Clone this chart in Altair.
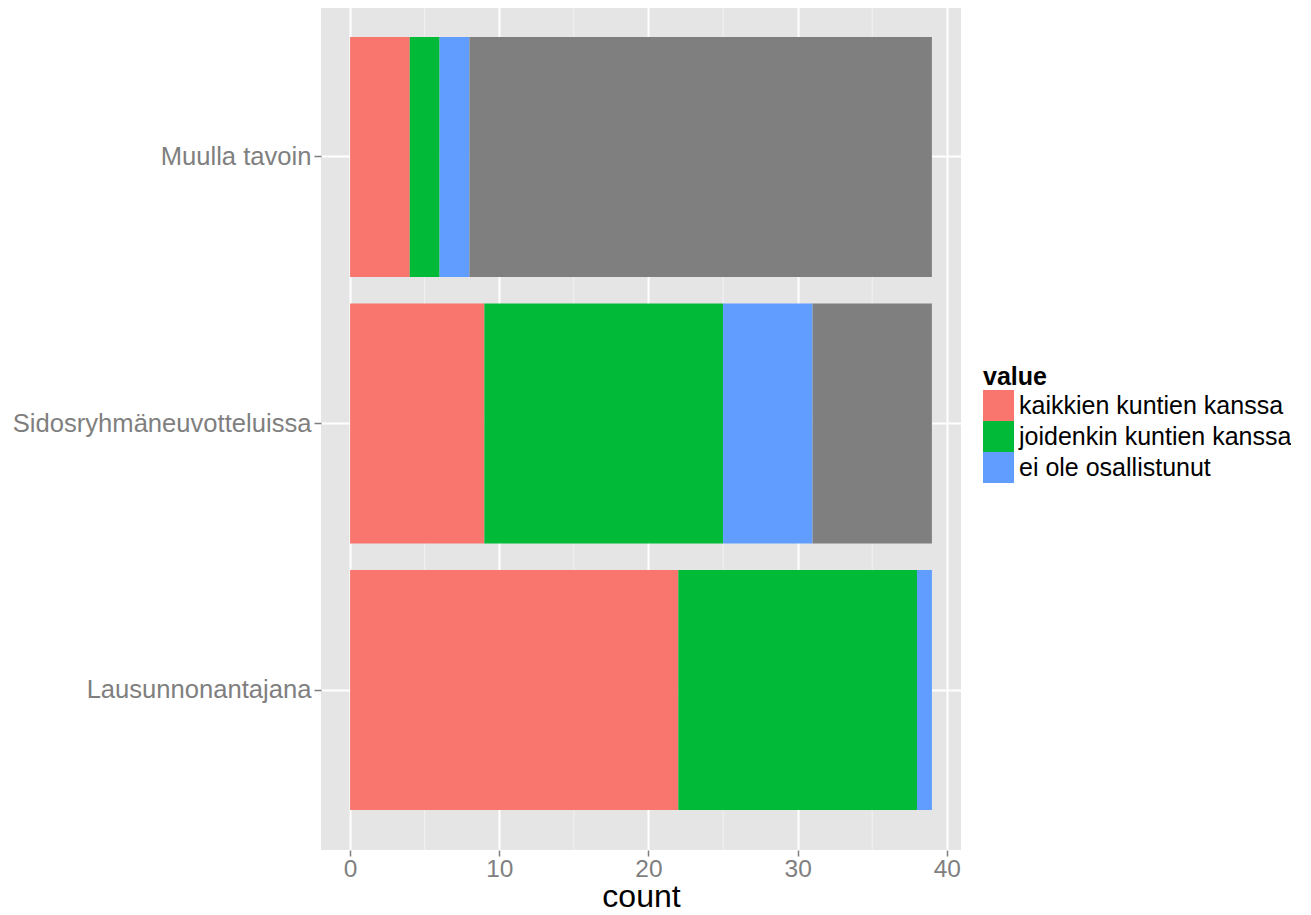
import altair as alt
import pandas as pd

categories = ["Muulla tavoin", "Sidosryhmäneuvotteluissa", "Lausunnonantajana"]
series_names = ["kaikkien kuntien kanssa", "joidenkin kuntien kanssa", "ei ole osallistunut", "NA"]
kaikkien = [4, 9, 22]
joidenkin = [2, 16, 16]
ei_ole = [2, 6, 1]
na_vals = [31, 8, 0]
colors = ["#F8766D", "#00BA38", "#619CFF", "#7F7F7F"]
x_ticks = [0, 10, 20, 30, 40]
minor_ticks = [5, 15, 25, 35]

rows = []
for i, cat in enumerate(categories):
    for j, (name, vals) in enumerate(zip(series_names, [kaikkien, joidenkin, ei_ole, na_vals])):
        rows.append({"variable": cat, "value": name, "count": vals[i], "ord": j})
df = pd.DataFrame(rows)
minor_df = pd.DataFrame({"m": minor_ticks})

FONT = "Liberation Sans"
xscale = alt.Scale(domain=[-1.95, 40.95], nice=False, zero=False)
yscale = alt.Scale(domain=categories, paddingInner=0.1, paddingOuter=0.15)

xaxis = alt.Axis(values=x_ticks, title="count", grid=True, gridColor="white",
                 gridWidth=2, domain=False, tickColor="#7F7F7F", tickSize=6,
                 tickWidth=1.5, labelColor="#7F7F7F", labelFontSize=24.5,
                 labelFont=FONT, labelPadding=1, titleFont=FONT,
                 titleFontSize=32, titleFontWeight="normal", titleColor="black",
                 titlePadding=1, labelFlush=False)

minor = alt.Chart(minor_df).mark_rule(color="#F2F2F2", strokeWidth=1).encode(
    x=alt.X("m:Q", scale=xscale, axis=xaxis)
)

bars = alt.Chart(df).mark_bar(strokeWidth=0).encode(
    x=alt.X("sum(count):Q", scale=xscale, stack="zero", axis=xaxis),
    y=alt.Y("variable:N", scale=yscale, sort=categories,
            axis=alt.Axis(title=None, grid=True, gridColor="white", gridWidth=2,
                          bandPosition=0.5, domain=False, tickColor="#7F7F7F",
                          tickSize=7, tickWidth=1.5, labelColor="#7F7F7F",
                          labelFontSize=25.6, labelFont=FONT, labelPadding=3,
                          labelLimit=1000)),
    color=alt.Color("value:N", scale=alt.Scale(domain=series_names, range=colors),
                    legend=alt.Legend(values=series_names[:3], title="value",
                                      orient="none", legendX=662, legendY=368,
                                      titleFont=FONT, titleFontSize=25,
                                      titleFontWeight="bold", titleColor="black",
                                      titlePadding=0, labelFont=FONT, labelFontSize=25,
                                      labelColor="black", symbolType="square",
                                      symbolSize=961, symbolStrokeWidth=0,
                                      symbolOpacity=1, rowPadding=0, labelOffset=5,
                                      labelLimit=1000)),
    order=alt.Order("ord:Q", sort="ascending"),
)

chart = alt.layer(minor, bars).properties(
    width=640, height=853,
    autosize=alt.AutoSizeParams(type="none"),
    padding={"top": -11, "left": 313, "right": 330, "bottom": 80},
    background="white",
).configure_view(fill="#E5E5E5", strokeWidth=0)

chart.save("out.html", embed_options={"renderer": "svg", "actions": False})
